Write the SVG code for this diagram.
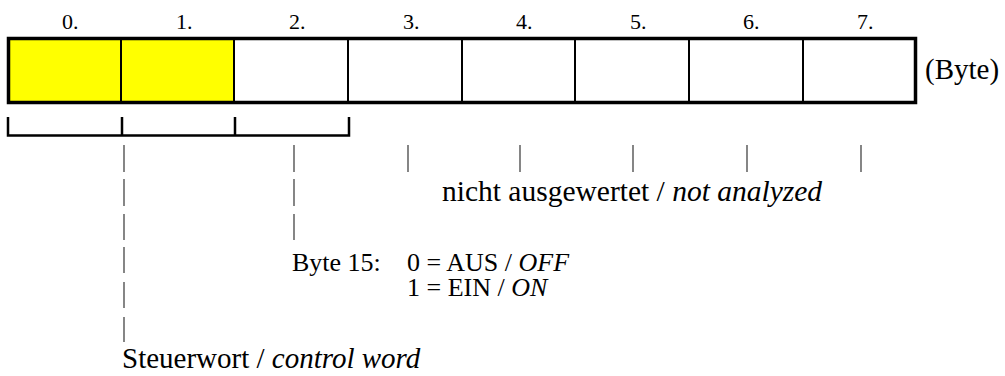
<svg xmlns="http://www.w3.org/2000/svg" width="1005" height="376" viewBox="0 0 1005 376">
<style>
text { font-family: "Liberation Serif", "Times New Roman", serif; fill: #000; }
.lbl { font-size: 22px; }
.txt { font-size: 29px; }
.sm { font-size: 26px; }
.it { font-style: italic; }
.hl { fill: #ffff00; stroke: none; }
.div { stroke: #000; stroke-width: 2; }
.pipe { stroke: #444; stroke-width: 1.3; }
.br { stroke: #000; stroke-width: 2.5; fill: none; }
</style>
<rect width="1005" height="376" fill="#fff"/>
<g id="labels">
<text class="lbl" x="62" y="29">0.</text>
<text class="lbl" x="176" y="29">1.</text>
<text class="lbl" x="289" y="29">2.</text>
<text class="lbl" x="403" y="29">3.</text>
<text class="lbl" x="516" y="29">4.</text>
<text class="lbl" x="630" y="29">5.</text>
<text class="lbl" x="743" y="29">6.</text>
<text class="lbl" x="857" y="29">7.</text>
</g>
<g id="register">
<rect class="hl" x="8" y="38" width="226" height="65"/>
<line class="div" x1="121" y1="38" x2="121" y2="103"/>
<line class="div" x1="234" y1="38" x2="234" y2="103"/>
<line class="div" x1="348" y1="38" x2="348" y2="103"/>
<line class="div" x1="462" y1="38" x2="462" y2="103"/>
<line class="div" x1="575" y1="38" x2="575" y2="103"/>
<line class="div" x1="689" y1="38" x2="689" y2="103"/>
<line class="div" x1="803" y1="38" x2="803" y2="103"/>
<rect x="8.5" y="38.5" width="907" height="64" fill="none" stroke="#000" stroke-width="3.5"/>
</g>
<g id="unit"><text class="txt" x="925" y="79">(Byte)</text></g>
<g id="connectors">
<path class="br" d="M8,117 V135.5 H349 V117 M122,117 V135.5 M235,117 V135.5"/>
<line class="pipe" x1="124" y1="145" x2="124" y2="172"/>
<line class="pipe" x1="124" y1="179" x2="124" y2="206"/>
<line class="pipe" x1="124" y1="214" x2="124" y2="240"/>
<line class="pipe" x1="124" y1="247" x2="124" y2="273"/>
<line class="pipe" x1="124" y1="282" x2="124" y2="308"/>
<line class="pipe" x1="124" y1="317" x2="124" y2="342"/>
<line class="pipe" x1="294" y1="145" x2="294" y2="172"/>
<line class="pipe" x1="294" y1="179" x2="294" y2="206"/>
<line class="pipe" x1="294" y1="214" x2="294" y2="240"/>
<line class="pipe" x1="408" y1="145" x2="408" y2="172"/>
<line class="pipe" x1="520" y1="145" x2="520" y2="172"/>
<line class="pipe" x1="633" y1="145" x2="633" y2="172"/>
<line class="pipe" x1="747" y1="145" x2="747" y2="172"/>
<line class="pipe" x1="861" y1="145" x2="861" y2="172"/>
</g>
<g id="not-analyzed"><text class="txt" x="442" y="201" style="font-size:29.5px">nicht ausgewertet / <tspan class="it">not analyzed</tspan></text></g>
<g id="byte15">
<text class="sm" x="292" y="271">Byte 15:</text>
<text class="sm" x="407" y="271">0 = AUS / <tspan class="it">OFF</tspan></text>
<text class="sm" x="407" y="296">1 = EIN / <tspan class="it">ON</tspan></text>
</g>
<g id="control-word"><text class="txt" x="122" y="368">Steuerwort / <tspan class="it">control word</tspan></text></g>
</svg>
